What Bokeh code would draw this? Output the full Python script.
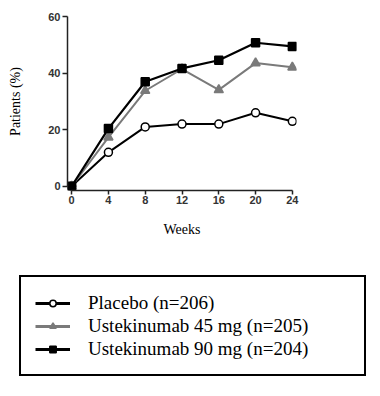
from bokeh.plotting import figure
from bokeh.layouts import column
from bokeh.models import Range1d, Legend, LegendItem, FixedTicker
from bokeh.embed import file_html
from bokeh.resources import INLINE

weeks = [0, 4, 8, 12, 16, 20, 24]
placebo = [0, 12, 21, 22, 22, 26, 23]
ust45 = [0, 17.3, 33.8, 41.5, 34.1, 43.6, 42.1]
ust90 = [0, 20.4, 37, 41.7, 44.6, 50.8, 49.5]
x_ticks = [0, 4, 8, 12, 16, 20, 24]
y_ticks = [0, 20, 40, 60]
labels = ["Placebo (n=206)", "Ustekinumab 45 mg (n=205)", "Ustekinumab 90 mg (n=204)"]

GRAY = "#7a7a7a"
styles = [
    dict(y=placebo, line_color="black", lw=2, marker="circle", size=8, fill="white", mline="black"),
    dict(y=ust45, line_color=GRAY, lw=2, marker="triangle", size=9, fill=GRAY, mline=GRAY),
    dict(y=ust90, line_color="black", lw=2.2, marker="square", size=8, fill="black", mline="black"),
]

p = figure(width=372, height=270, output_backend="svg", toolbar_location=None,
           x_range=Range1d(-0.45, 24.45), y_range=Range1d(-1.5, 61.5),
           min_border_left=67, min_border_right=76, min_border_top=12, min_border_bottom=80)
p.frame_align = False
p.outline_line_color = None
p.grid.visible = False

for s in styles:
    p.line(weeks, s["y"], line_color=s["line_color"], line_width=s["lw"])
    p.scatter(weeks, s["y"], marker=s["marker"], size=s["size"], fill_color=s["fill"],
              line_color=s["mline"], line_width=1.5)

for ax in (p.xaxis[0], p.yaxis[0]):
    ax.axis_line_width = 1.5
    ax.axis_line_color = "#222222"
    ax.major_tick_line_color = "#222222"
    ax.major_tick_line_width = 1.5
    ax.major_tick_in = 0
    ax.minor_tick_line_color = None
    ax.major_label_text_font = "Liberation Sans"
    ax.major_label_text_font_size = "11px"
    ax.major_label_text_font_style = "bold"
    ax.major_label_text_color = "#333333"
    ax.axis_label_text_font = "Liberation Serif"
    ax.axis_label_text_font_style = "normal"
    ax.axis_label_text_font_size = "14px"
    ax.axis_label_text_color = "black"

p.xaxis[0].ticker = FixedTicker(ticks=x_ticks)
p.yaxis[0].ticker = FixedTicker(ticks=y_ticks)
p.xaxis[0].bounds = (0, 24)
p.yaxis[0].bounds = (0, 60)
p.xaxis[0].major_tick_out = 4
p.yaxis[0].major_tick_out = 5
p.xaxis[0].axis_label = "Weeks"
p.yaxis[0].axis_label = "Patients (%)"
p.xaxis[0].axis_label_standoff = 15
p.yaxis[0].axis_label_standoff = 22
p.xaxis[0].major_label_standoff = 1
p.yaxis[0].major_label_standoff = 2

# legend panel (no axes)
q = figure(width=372, height=118, output_backend="svg", toolbar_location=None,
           x_range=Range1d(0, 1), y_range=Range1d(0, 1),
           x_axis_location=None, y_axis_location=None,
           min_border_left=0, min_border_right=0, min_border_top=0, min_border_bottom=0)
q.frame_align = False
q.outline_line_color = None
q.grid.visible = False
items = []
for s, lab in zip(styles, labels):
    rl = q.line([-5, -4], [-5, -5], line_color=s["line_color"], line_width=s["lw"] + 1)
    rm = q.scatter([-5], [-5], marker=s["marker"], size=s["size"], fill_color=s["fill"],
                   line_color=s["mline"], line_width=1.5)
    items.append(LegendItem(label=lab, renderers=[rl, rm]))

legend = Legend(items=items, location=(19, 12))
legend.border_line_color = "black"
legend.border_line_alpha = 1.0
legend.border_line_width = 2
legend.padding = 14
legend.margin = 0
legend.spacing = 0
legend.glyph_width = 35
legend.glyph_height = 16
legend.label_height = 23
legend.label_standoff = 18
legend.label_width = 262
legend.label_text_font = "Liberation Serif"
legend.label_text_font_size = "19px"
legend.label_text_color = "black"
legend.background_fill_color = "white"
legend.background_fill_alpha = 1.0
q.add_layout(legend, "center")

open("out.html", "w").write(file_html(column(p, q, spacing=0), INLINE))
